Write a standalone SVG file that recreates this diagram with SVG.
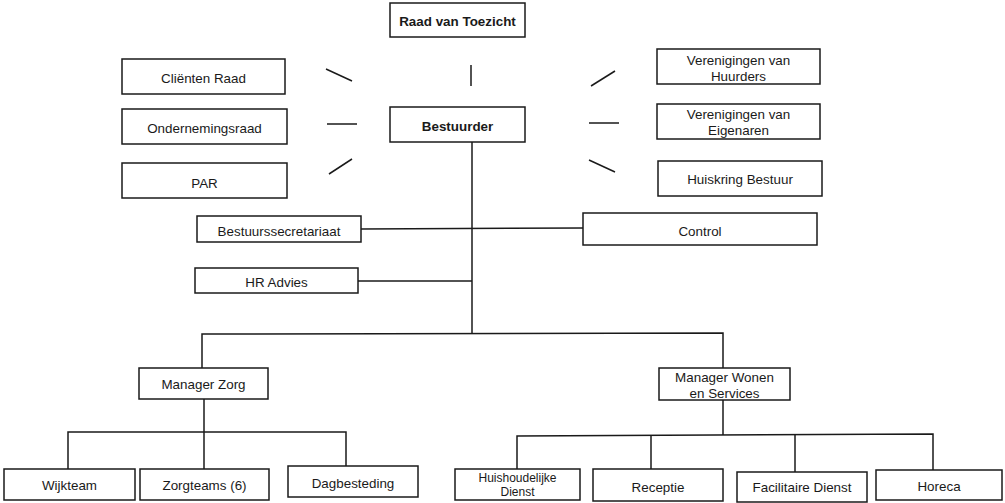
<svg xmlns="http://www.w3.org/2000/svg" width="1005" height="503" viewBox="0 0 1005 503">
<style>
.box{fill:#fff;stroke:#1a1a1a;stroke-width:1.5}
.t{font-family:"Liberation Sans",Arial,sans-serif;font-size:13.4px;fill:#1a1a1a;text-anchor:middle}
.b{font-weight:bold}
.s{font-size:12px}
.ln{stroke:#1a1a1a;stroke-width:1.5;fill:none}
</style>
<rect width="1005" height="503" fill="#fff"/>
<g id="connectors">
<line class="ln" x1="471" y1="65" x2="471" y2="86"/>
<line class="ln" x1="326" y1="69" x2="352" y2="81"/>
<line class="ln" x1="327" y1="124" x2="357" y2="124"/>
<line class="ln" x1="329" y1="174" x2="352" y2="159"/>
<line class="ln" x1="591" y1="86" x2="615" y2="71"/>
<line class="ln" x1="589" y1="123" x2="619" y2="123"/>
<line class="ln" x1="589" y1="160" x2="615" y2="172"/>
<line class="ln" x1="472" y1="142" x2="472" y2="334"/>
<line class="ln" x1="361" y1="229" x2="583" y2="228"/>
<line class="ln" x1="358" y1="281" x2="472" y2="281"/>
<polyline class="ln" points="202,368 202,334 723,333 723,368"/>
<line class="ln" x1="204" y1="399" x2="204" y2="432"/>
<polyline class="ln" points="68,469 68,432 346,432 346,466"/>
<line class="ln" x1="204" y1="432" x2="204" y2="469"/>
<line class="ln" x1="723" y1="400" x2="723" y2="435"/>
<polyline class="ln" points="517,469 517,436 933,434 933,470"/>
<line class="ln" x1="651" y1="435" x2="651" y2="469"/>
<line class="ln" x1="795" y1="434" x2="795" y2="472"/>
</g>
<g id="raad-van-toezicht"><rect class="box" x="390" y="3" width="135" height="34"/><text class="t b" x="457.5" y="26">Raad van Toezicht</text></g>
<g id="bestuurder"><rect class="box" x="390" y="107" width="135" height="35"/><text class="t b" x="457.5" y="131">Bestuurder</text></g>
<g id="clienten-raad"><rect class="box" x="122" y="59" width="163" height="35"/><text class="t" x="203.5" y="83">Cliënten Raad</text></g>
<g id="ondernemingsraad"><rect class="box" x="122" y="109" width="165" height="35"/><text class="t" x="204.5" y="132.5">Ondernemingsraad</text></g>
<g id="par"><rect class="box" x="122" y="163" width="165" height="35"/><text class="t" x="204.5" y="187.5">PAR</text></g>
<g id="verenigingen-huurders"><rect class="box" x="657" y="49" width="163" height="35"/><text class="t" x="738.5" y="65">Verenigingen van</text><text class="t" x="738.5" y="81">Huurders</text></g>
<g id="verenigingen-eigenaren"><rect class="box" x="657" y="104" width="163" height="35"/><text class="t" x="738.5" y="119">Verenigingen van</text><text class="t" x="738.5" y="135">Eigenaren</text></g>
<g id="huiskring-bestuur"><rect class="box" x="658" y="161" width="164" height="35"/><text class="t" x="740" y="184">Huiskring Bestuur</text></g>
<g id="bestuurssecretariaat"><rect class="box" x="197" y="216" width="164" height="26"/><text class="t" x="279" y="235.5">Bestuurssecretariaat</text></g>
<g id="control"><rect class="box" x="583" y="213" width="234" height="32"/><text class="t" x="700" y="235.5">Control</text></g>
<g id="hr-advies"><rect class="box" x="195" y="268" width="163" height="25"/><text class="t" x="276.5" y="286.5">HR Advies</text></g>
<g id="manager-zorg"><rect class="box" x="139" y="368" width="129" height="31"/><text class="t" x="203.5" y="388.5">Manager Zorg</text></g>
<g id="manager-wonen"><rect class="box" x="659" y="368" width="131" height="32"/><text class="t" x="724.5" y="381.5">Manager Wonen</text><text class="t" x="724.5" y="397.5">en Services</text></g>
<g id="wijkteam"><rect class="box" x="4" y="469" width="131" height="31"/><text class="t" x="69.5" y="489.5">Wijkteam</text></g>
<g id="zorgteams"><rect class="box" x="140" y="469" width="129" height="31"/><text class="t" x="204.5" y="489.5">Zorgteams (6)</text></g>
<g id="dagbesteding"><rect class="box" x="288" y="466" width="130" height="31"/><text class="t" x="353" y="487.5">Dagbesteding</text></g>
<g id="huishoudelijke-dienst"><rect class="box" x="455" y="469" width="125" height="31"/><text class="t s" x="517.5" y="482">Huishoudelijke</text><text class="t s" x="517.5" y="496">Dienst</text></g>
<g id="receptie"><rect class="box" x="593" y="469" width="130" height="32"/><text class="t" x="658" y="491.5">Receptie</text></g>
<g id="facilitaire-dienst"><rect class="box" x="737" y="472" width="130" height="30"/><text class="t" x="802" y="491.5">Facilitaire Dienst</text></g>
<g id="horeca"><rect class="box" x="876" y="470" width="126" height="30"/><text class="t" x="939" y="490.5">Horeca</text></g>
</svg>
